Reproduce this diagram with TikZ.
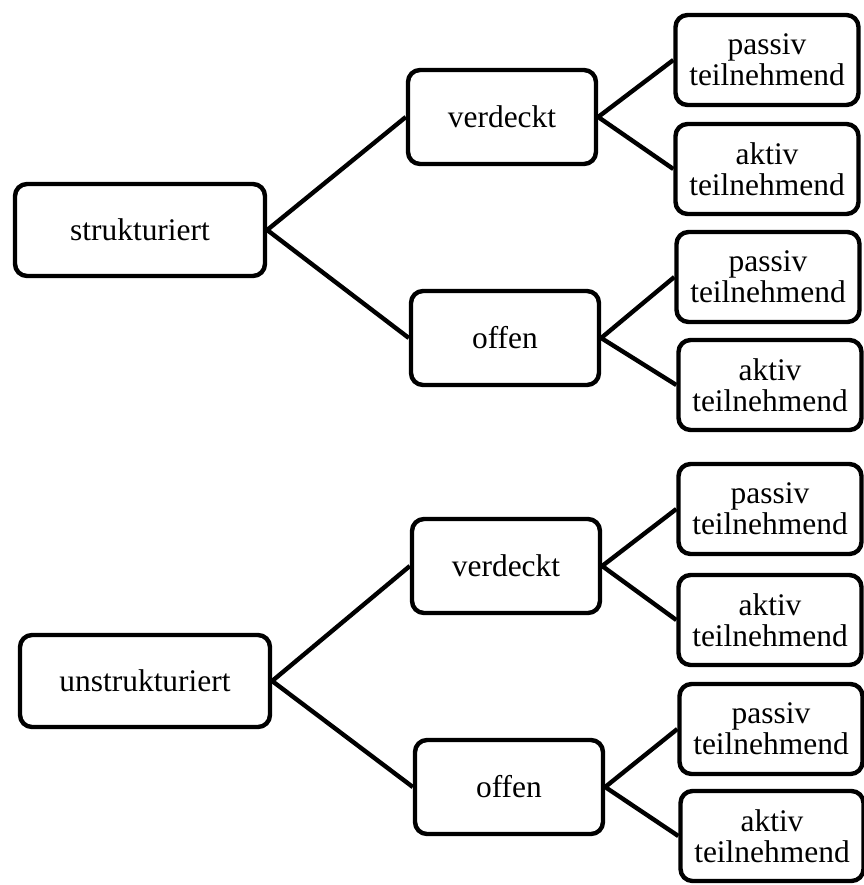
\documentclass[tikz,border=0pt]{standalone}
\usepackage{fontspec}
\setmainfont{Liberation Serif}
\begin{document}
\begin{tikzpicture}[x=0.02cm,y=-0.02cm,
        box/.style={draw, line width=2.5pt, rounded corners=0.24cm, align=center,
            inner sep=0pt, font=\fontsize{17.9}{17.6}\selectfont},
        rootbox/.style={box, minimum width=5.0cm, minimum height=1.84cm},
        midbox/.style={box, minimum width=3.76cm, minimum height=1.88cm},
        leafbox/.style={box, minimum width=3.66cm, minimum height=1.8cm},
        link/.style={line width=2.5pt}]
        \useasboundingbox (0,0) rectangle (864,885);

        % first level
        \node[rootbox] (struk) at (140,230) {strukturiert};
        \node[rootbox] (unstruk) at (145,681) {unstrukturiert};

        % second level
        \node[midbox] (verd1) at (502,117) {verdeckt};
        \node[midbox] (off1) at (505,338) {offen};
        \node[midbox] (verd2) at (506,566) {verdeckt};
        \node[midbox] (off2) at (509,787) {offen};

        % third level
        \node[leafbox] (pas1) at (767,60) {passiv\\teilnehmend};
        \node[leafbox] (akt1) at (767,169) {aktiv\\teilnehmend};
        \node[leafbox] (pas2) at (768,277) {passiv\\teilnehmend};
        \node[leafbox] (akt2) at (770,385) {aktiv\\teilnehmend};
        \node[leafbox] (pas3) at (770,509) {passiv\\teilnehmend};
        \node[leafbox] (akt3) at (770,620) {aktiv\\teilnehmend};
        \node[leafbox] (pas4) at (771,729) {passiv\\teilnehmend};
        \node[leafbox] (akt4) at (772,836) {aktiv\\teilnehmend};

        \draw[link] (struk.east) -- (verd1.west);
        \draw[link] (struk.east) -- (off1.west);
        \draw[link] (unstruk.east) -- (verd2.west);
        \draw[link] (unstruk.east) -- (off2.west);

        \draw[link] (verd1.east) -- (pas1.west);
        \draw[link] (verd1.east) -- (akt1.west);
        \draw[link] (off1.east) -- (pas2.west);
        \draw[link] (off1.east) -- (akt2.west);
        \draw[link] (verd2.east) -- (pas3.west);
        \draw[link] (verd2.east) -- (akt3.west);
        \draw[link] (off2.east) -- (pas4.west);
        \draw[link] (off2.east) -- (akt4.west);
    \end{tikzpicture}
\end{document}
